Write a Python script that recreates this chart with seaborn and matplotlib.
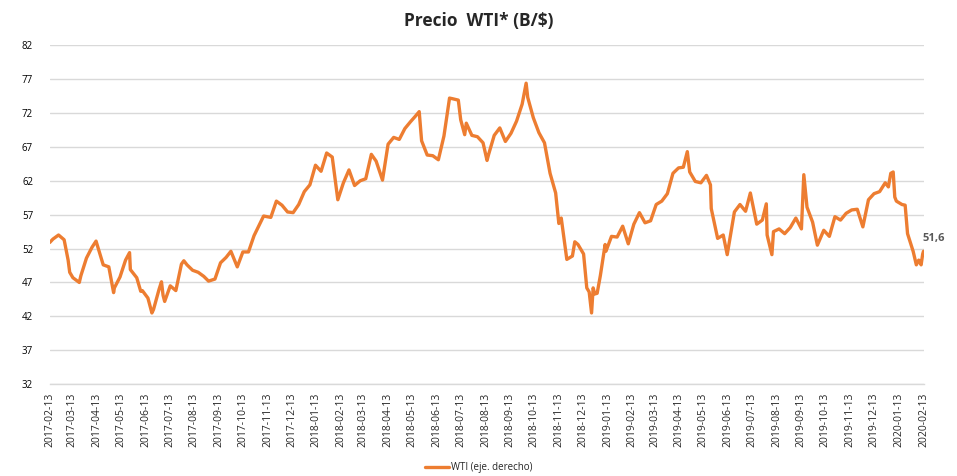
import numpy as np
import pandas as pd
import matplotlib
matplotlib.use("Agg")
import matplotlib.pyplot as plt
import matplotlib.dates as mdates
import seaborn as sns

# WTI closing price (US$/barrel)
dates = [
    "2017-02-13", "2017-02-17", "2017-02-24", "2017-03-03", "2017-03-08", "2017-03-10",
    "2017-03-14", "2017-03-22", "2017-03-24", "2017-03-31", "2017-04-07", "2017-04-12",
    "2017-04-19", "2017-04-21", "2017-04-28", "2017-05-04", "2017-05-05", "2017-05-12",
    "2017-05-19", "2017-05-24", "2017-05-25", "2017-06-02", "2017-06-07", "2017-06-09",
    "2017-06-16", "2017-06-21", "2017-06-23", "2017-06-30", "2017-07-03", "2017-07-05",
    "2017-07-07", "2017-07-14", "2017-07-21", "2017-07-28", "2017-07-31", "2017-08-04",
    "2017-08-11", "2017-08-18", "2017-08-25", "2017-08-31", "2017-09-08", "2017-09-15",
    "2017-09-22", "2017-09-28", "2017-10-06", "2017-10-13", "2017-10-20", "2017-10-27",
    "2017-11-03", "2017-11-08", "2017-11-17", "2017-11-24", "2017-12-01", "2017-12-08",
    "2017-12-15", "2017-12-22", "2017-12-29",
    "2018-01-05", "2018-01-12", "2018-01-19", "2018-01-26", "2018-02-02", "2018-02-09",
    "2018-02-16", "2018-02-23", "2018-03-02", "2018-03-09", "2018-03-16", "2018-03-23",
    "2018-03-29", "2018-04-06", "2018-04-13", "2018-04-20", "2018-04-27", "2018-05-04",
    "2018-05-11", "2018-05-17", "2018-05-22", "2018-05-25", "2018-06-01", "2018-06-08",
    "2018-06-15", "2018-06-22", "2018-06-29", "2018-07-03", "2018-07-10", "2018-07-13",
    "2018-07-18", "2018-07-20", "2018-07-27", "2018-08-03", "2018-08-10", "2018-08-15",
    "2018-08-17", "2018-08-24", "2018-08-31", "2018-09-07", "2018-09-14", "2018-09-21",
    "2018-09-28", "2018-10-03", "2018-10-05", "2018-10-12", "2018-10-19", "2018-10-26",
    "2018-11-02", "2018-11-09", "2018-11-13", "2018-11-16", "2018-11-23", "2018-11-30",
    "2018-12-03", "2018-12-07", "2018-12-14", "2018-12-18", "2018-12-21", "2018-12-24",
    "2018-12-26", "2018-12-28", "2018-12-31",
    "2019-01-04", "2019-01-10", "2019-01-11", "2019-01-18", "2019-01-25", "2019-02-01",
    "2019-02-08", "2019-02-15", "2019-02-22", "2019-03-01", "2019-03-08", "2019-03-15",
    "2019-03-22", "2019-03-29", "2019-04-05", "2019-04-12", "2019-04-18", "2019-04-23",
    "2019-04-26", "2019-05-03", "2019-05-10", "2019-05-17", "2019-05-22", "2019-05-23",
    "2019-05-31", "2019-06-07", "2019-06-12", "2019-06-14", "2019-06-21", "2019-06-28",
    "2019-07-05", "2019-07-11", "2019-07-19", "2019-07-26", "2019-07-31", "2019-08-01",
    "2019-08-07", "2019-08-09", "2019-08-16", "2019-08-23", "2019-08-30", "2019-09-06",
    "2019-09-13", "2019-09-16", "2019-09-20", "2019-09-27", "2019-10-03", "2019-10-11",
    "2019-10-18", "2019-10-25", "2019-11-01", "2019-11-08", "2019-11-15", "2019-11-22",
    "2019-11-29", "2019-12-06", "2019-12-13", "2019-12-20", "2019-12-27", "2019-12-31",
    "2020-01-03", "2020-01-06", "2020-01-08", "2020-01-10", "2020-01-17", "2020-01-21",
    "2020-01-24", "2020-01-31", "2020-02-04", "2020-02-07", "2020-02-10", "2020-02-12",
    "2020-02-13",
]
wti = [
    52.9, 53.4, 54.0, 53.3, 50.3, 48.5,
    47.7, 47.0, 48.0, 50.6, 52.2, 53.1,
    50.4, 49.6, 49.3, 45.5, 46.2, 47.8,
    50.3, 51.4, 48.9, 47.7, 45.7, 45.8,
    44.7, 42.5, 43.0, 46.0, 47.1, 45.1,
    44.2, 46.5, 45.8, 49.7, 50.2, 49.6,
    48.8, 48.5, 47.9, 47.2, 47.5, 49.9,
    50.7, 51.6, 49.3, 51.5, 51.5, 53.9,
    55.6, 56.8, 56.6, 59.0, 58.4, 57.4,
    57.3, 58.5, 60.4,
    61.4, 64.3, 63.4, 66.1, 65.5, 59.2,
    61.7, 63.6, 61.3, 62.0, 62.3, 65.9,
    64.9, 62.1, 67.4, 68.4, 68.1, 69.7,
    70.7, 71.5, 72.2, 67.9, 65.8, 65.7,
    65.1, 68.6, 74.2, 74.1, 73.9, 71.0,
    68.8, 70.5, 68.7, 68.5, 67.6, 65.0,
    65.9, 68.7, 69.8, 67.8, 69.0, 70.8,
    73.3, 76.4, 74.3, 71.3, 69.1, 67.6,
    63.1, 60.2, 55.7, 56.5, 50.4, 50.9,
    53.0, 52.6, 51.2, 46.2, 45.6, 42.5,
    46.2, 45.3, 45.4,
    48.0, 52.6, 51.6, 53.8, 53.7, 55.3,
    52.7, 55.6, 57.3, 55.8, 56.1, 58.5,
    59.0, 60.1, 63.1, 63.9, 64.0, 66.3,
    63.3, 61.9, 61.7, 62.8, 61.4, 57.9,
    53.5, 54.0, 51.1, 52.5, 57.4, 58.5,
    57.5, 60.2, 55.6, 56.2, 58.6, 54.0,
    51.1, 54.5, 54.9, 54.2, 55.1, 56.5,
    54.9, 62.9, 58.1, 55.9, 52.5, 54.7,
    53.8, 56.7, 56.2, 57.2, 57.7, 57.8,
    55.2, 59.2, 60.1, 60.4, 61.7, 61.1,
    63.1, 63.3, 59.6, 59.0, 58.5, 58.4,
    54.2, 51.6, 49.6, 50.3, 49.6, 51.2,
    51.6,
]

df = pd.DataFrame({"Fecha": pd.to_datetime(dates), "WTI": wti})

orange = "#ED7D31"
grid_gray = "#D9D9D9"

sns.set_theme(style="white")
plt.rcParams["font.family"] = ["Open Sans", "DejaVu Sans"]

fig = plt.figure(figsize=(9.57, 4.76), dpi=100)
ax = fig.add_axes([0.052, 0.193, 0.913, 0.712])

sns.lineplot(data=df, x="Fecha", y="WTI", ax=ax, color=orange, linewidth=2.4,
             label="WTI (eje. derecho)", legend=False)

# y axis
ax.set_ylim(32, 82)
ax.set_yticks(np.arange(32, 83, 5))
ax.yaxis.grid(True, color=grid_gray, linewidth=1)
ax.tick_params(axis="y", labelsize=7, colors="black", length=0, pad=12)

# x axis: one tick on the 13th of every month
ax.set_xlim(pd.Timestamp("2017-02-13"), pd.Timestamp("2020-02-13"))
ax.xaxis.set_major_locator(mdates.MonthLocator(bymonthday=13))
ax.xaxis.set_major_formatter(mdates.DateFormatter("%Y-%m-%d"))
ax.tick_params(axis="x", labelsize=7.5, rotation=90, direction="out",
               length=4, width=0.8, pad=2, colors=grid_gray, labelcolor="#262626")

for side in ["top", "right", "left"]:
    ax.spines[side].set_visible(False)
ax.spines["bottom"].set_color(grid_gray)
ax.spines["bottom"].set_linewidth(1)

ax.set_xlabel("")
ax.set_ylabel("")

# last value annotation
last = df.iloc[-1]
ax.annotate(f"{last['WTI']:.1f}".replace(".", ","), xy=(last["Fecha"], last["WTI"]),
            xytext=(-1, 5), textcoords="offset points", fontsize=8,
            fontweight="bold", color="#595959", ha="left", va="bottom",
            annotation_clip=False)

fig.suptitle("Precio  WTI* (B/$)", x=0.5, y=0.975, fontsize=12.5, fontweight="bold")

handles, labels = ax.get_legend_handles_labels()
fig.legend(handles, labels, loc="lower center", bbox_to_anchor=(0.5, -0.012),
           frameon=False, fontsize=7, handlelength=2.5, handletextpad=0.2)

fig.savefig("out.png", dpi=100)
